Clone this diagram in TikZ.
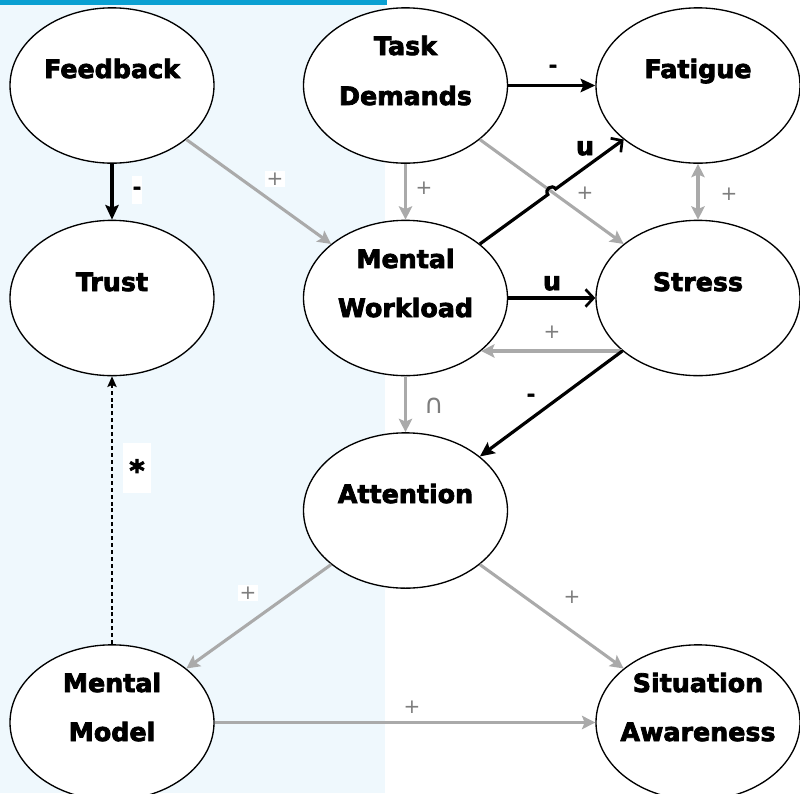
\documentclass[tikz,border=0pt]{standalone}
\usepackage{fontspec}
\setmainfont{DejaVu Sans}[BoldFeatures={FakeBold=3}]
\usetikzlibrary{shapes.geometric,arrows.meta,calc}
\definecolor{arrgray}{RGB}{170,170,170}
\definecolor{labgray}{RGB}{125,125,125}
\definecolor{bgblue}{RGB}{239,248,253}
\definecolor{barblue}{RGB}{10,160,210}
\begin{document}
\begin{tikzpicture}[x=0.75pt,y=-0.75pt,
  ell/.style={ellipse,draw=black,line width=1pt,fill=white,minimum width=153pt,minimum height=116.5pt,inner sep=0pt},
  txt/.style={font=\bfseries\fontsize{19}{23}\selectfont,anchor=base,inner sep=0pt},
  garr/.style={draw=arrgray,line width=2.3pt,-{Stealth[length=10pt,width=10pt,inset=2pt]}},
  gdbl/.style={draw=arrgray,line width=2.3pt,{Stealth[length=10pt,width=10pt,inset=2pt]}-{Stealth[length=10pt,width=10pt,inset=2pt]}},
  barr/.style={draw=black,line width=2.4pt,-{Stealth[length=11pt,width=10pt,inset=2pt]}},
  carr/.style={draw=black,line width=2.4pt,-{Straight Barb[length=6pt,width=13pt,line width=2pt]}},
  dasharr/.style={draw=black,line width=1.1pt,dash pattern=on 3pt off 2.2pt,-{Stealth[length=8pt,width=7pt,inset=1.5pt]}},
  plus/.style={fill=white,text=labgray,font=\fontsize{15}{15}\selectfont,anchor=base,yshift=-5.4pt,inner sep=1.5pt},
  minus/.style={text=black,font=\bfseries\fontsize{15}{15}\selectfont,anchor=base,yshift=-4.5pt,inner sep=1pt},
  ulab/.style={text=black,font=\bfseries\fontsize{19}{19}\selectfont,anchor=base,yshift=-5.3pt,inner sep=0pt},
  caplab/.style={text=labgray,font=\fontsize{20}{20}\selectfont,anchor=base,yshift=-6.5pt,inner sep=0pt}
]
\useasboundingbox (0,0) rectangle (800,793);
\clip (0,0) rectangle (800,793);
\fill[white] (0,0) rectangle (800,793);
\fill[bgblue] (0,5) rectangle (385,793);
\fill[barblue] (0,0) rectangle (387,5);

% ellipses
\node[ell] (fb) at (112,85.5) {};
\node[ell] (td) at (405.5,85.5) {};
\node[ell] (fa) at (698,85.5) {};
\node[ell] (tr) at (112,298) {};
\node[ell] (mw) at (405.5,298) {};
\node[ell] (st) at (698,298) {};
\node[ell] (at) at (405.5,510.5) {};
\node[ell] (mm) at (112,722.5) {};
\node[ell] (sa) at (698,722.5) {};

% texts
\node[txt] (fbt) at (112,78) {Feedback};
\node[txt] (tdt1) at (405.5,55) {Task};
\node[txt] (tdt2) at (405.5,105) {Demands};
\node[txt] (fat) at (698,78) {Fatigue};
\node[txt] (trt) at (112,291) {Trust};
\node[txt] (mwt1) at (405.5,268) {Mental};
\node[txt] (mwt2) at (405.5,317) {Workload};
\node[txt] (stt) at (698,291) {Stress};
\node[txt] (att) at (405.5,503) {Attention};
\node[txt] (mmt1) at (112,692) {Mental};
\node[txt] (mmt2) at (112,741) {Model};
\node[txt] (sat1) at (698,692) {Situation};
\node[txt] (sat2) at (698,741) {Awareness};

% connectors
\draw[garr] (fb.-36) -- (mw.144);
\draw[garr] (td.south) -- (mw.north);
\draw[garr] (td.-36) -- (st.144);
\draw[gdbl] (fa.south) -- (st.north);
\draw[garr] (st.215) -- (mw.-35);
\draw[garr] (mw.south) -- (at.north);
\draw[garr] (at.216) -- (mm.36);
\draw[garr] (at.-36) -- (sa.144);
\draw[garr] (mm.east) -- (sa.west);

\draw[barr] (td.east) -- (fa.west);
\draw[barr] (fb.south) -- (tr.north);
\draw[carr] (mw.east) -- (st.west);
\draw[barr] (st.215) -- (at.36);

\coordinate (X) at (intersection of mw.36--fa.216 and td.-36--st.144);
\coordinate (h1) at ($(X)!3.6pt!(mw.36)$);
\coordinate (h2) at ($(X)!3.6pt!(fa.216)$);
\draw[carr] (mw.36) -- (h1) .. controls ($(h1)!4.8pt!90:(X)$) and ($(h2)!4.8pt!-90:(X)$) .. (h2) -- (fa.216);

\draw[dasharr] (mm.north) -- (tr.south);

% labels
\node[minus] (l1) at (553,66) {-};
\node[minus,fill=white,minimum width=8pt,minimum height=21pt] (l2) at (137,188) {-};
\node[plus] (l3) at (275,178) {+};
\node[plus] (l4) at (424,187) {+};
\node[plus] (l5) at (585,192) {+};
\node[ulab] (l6) at (585,148) {u};
\node[plus] (l7) at (729,193) {+};
\node[ulab] (l8) at (552,283) {u};
\node[plus] (l9) at (552,331) {+};
\node[caplab] (l10) at (434,405) {∩};
\node[minus] (l11) at (531,395) {-};
\node[fill=white,minimum width=21pt,minimum height=37pt,inner sep=0pt] (starbox) at (137,468) {};
\node[text=black,font=\bfseries\fontsize{22}{22}\selectfont,anchor=base,inner sep=0pt] (star) at (137,481) {*};
\node[plus] (l12) at (248,592) {+};
\node[plus] (l13) at (572,596) {+};
\node[plus] (l14) at (412,706) {+};
\end{tikzpicture}
\end{document}
